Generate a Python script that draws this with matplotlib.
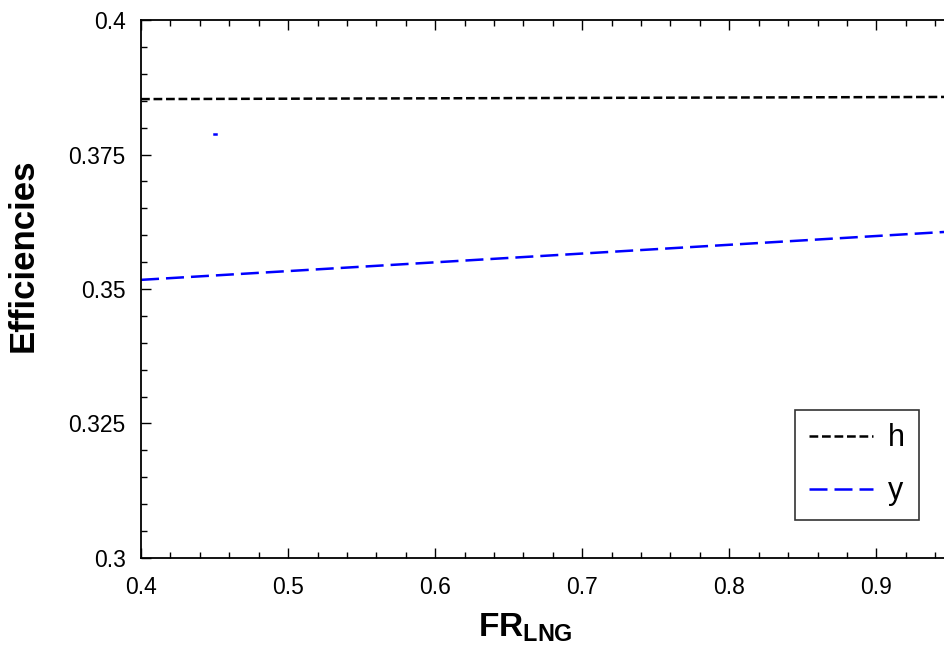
import numpy as np
import matplotlib
matplotlib.use("Agg")
import matplotlib.pyplot as plt
from matplotlib.ticker import MultipleLocator

plt.rcParams['font.family'] = ['Liberation Sans', 'DejaVu Sans']
plt.rcParams['mathtext.fontset'] = 'custom'
plt.rcParams['mathtext.rm'] = 'Liberation Sans'
plt.rcParams['mathtext.bf'] = 'Liberation Sans:bold'

# values
fr = [0.40, 0.946]
eta_h = [0.3853, 0.3857]
eta_y = [0.3517, 0.3606]
# stray blue fragment near the top-left
stray_fr = [0.4497, 0.4511]
stray_y = [0.3789, 0.3789]

fig = plt.figure(figsize=(9.44, 6.54), dpi=100)
ax = fig.add_axes([0.1494, 0.1468, 0.8506, 0.8226])

ax.plot(fr, eta_h, color="k", lw=1.8, dashes=(3.5, 1.5), label="h")
ax.plot(fr, eta_y, color="#0000ff", lw=1.8, dashes=(7.2, 2.8), label="y")
ax.plot(stray_fr, stray_y, color="#0000ff", lw=1.8)

ax.set_xlim(0.4, 0.946)
ax.set_ylim(0.3, 0.4)
ax.xaxis.set_minor_locator(MultipleLocator(0.02))
ax.yaxis.set_minor_locator(MultipleLocator(0.005))
ax.set_xticks([0.4, 0.5, 0.6, 0.7, 0.8, 0.9])
ax.set_xticklabels(["0.4", "0.5", "0.6", "0.7", "0.8", "0.9"])
ax.set_yticks([0.3, 0.325, 0.35, 0.375, 0.4])
ax.set_yticklabels(["0.3", "0.325", "0.35", "0.375", "0.4"])
ax.tick_params(which="both", direction="in", top=True, right=False, labelsize=16.5, width=1)
ax.tick_params(which="major", length=7)
ax.tick_params(which="minor", length=4)
ax.tick_params(axis="x", which="major", pad=13)
ax.tick_params(axis="y", which="major", pad=11)
ax.spines['right'].set_visible(False)
for s in ax.spines.values():
    s.set_linewidth(1.3)

ax.set_xlabel(r"$\mathbf{FR}_{\mathbf{LNG}}$", fontsize=24)
ax.xaxis.set_label_coords(0.479, -0.1)
ax.set_ylabel("Efficiencies", fontsize=25, fontweight="bold")
ax.yaxis.set_label_coords(-0.126, 0.563)

leg = ax.legend(loc="lower right", bbox_to_anchor=(0.969, 0.0706), fontsize=22,
                frameon=True, fancybox=False, edgecolor="k", handlelength=2.1,
                handletextpad=0.5, borderpad=0.45, labelspacing=0.75, borderaxespad=0)
leg.get_frame().set_linewidth(1.2)

fig.savefig("out.png", dpi=100)
